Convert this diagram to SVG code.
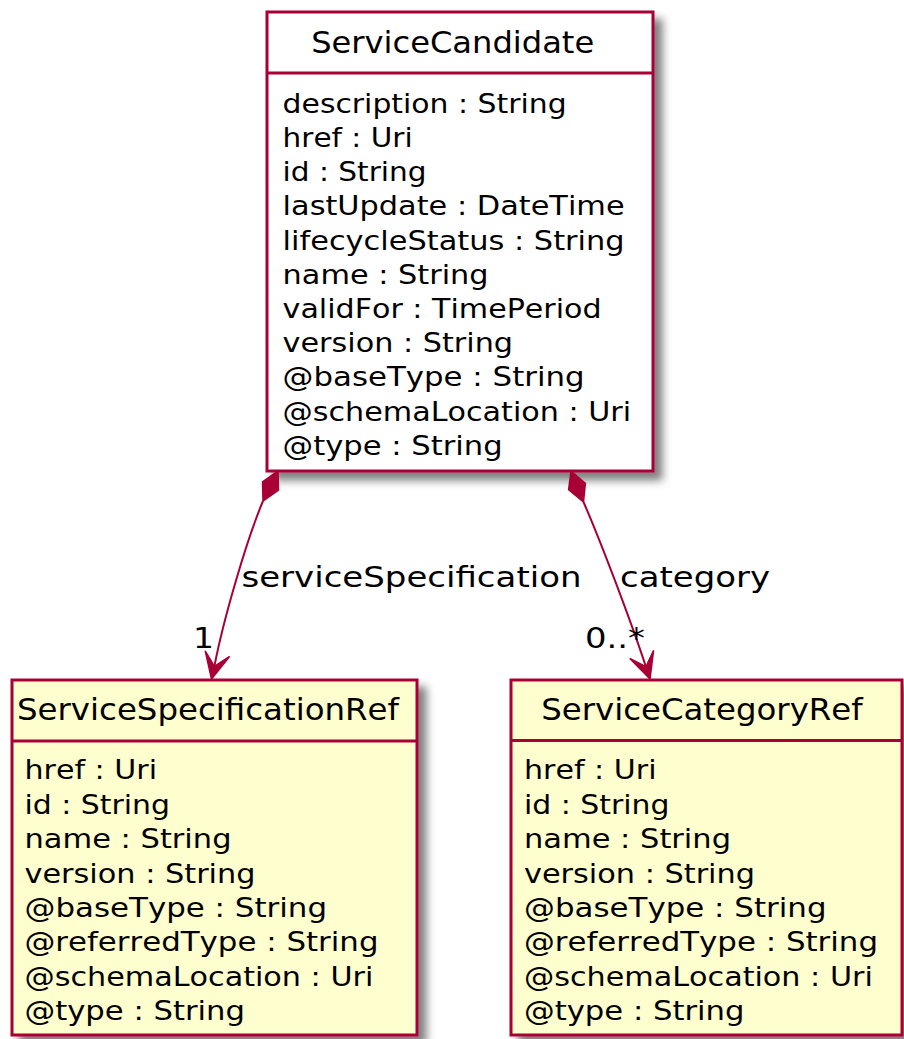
<svg xmlns="http://www.w3.org/2000/svg" width="904" height="1039" viewBox="0 0 904 1039">
<defs>
<filter id="sh" x="-10%" y="-10%" width="130%" height="130%">
<feDropShadow dx="8" dy="8" stdDeviation="4" flood-color="#000" flood-opacity="0.5"/>
</filter>
<style>
.box{stroke:#A80036;stroke-width:3;filter:url(#sh)}
.main{fill:#FFFFFF}
.ref{fill:#FEFECE}
.sep{stroke:#A80036;stroke-width:3}
text{font-family:"DejaVu Sans","Liberation Sans",sans-serif;fill:#000;font-kerning:none}
.title{font-size:30px}
.attr{font-size:26px}
.lbl{font-size:28px}
.link{fill:none;stroke:#A80036;stroke-width:2}
.head{fill:#A80036;stroke:#A80036;stroke-width:1.5;stroke-linejoin:miter}
</style>
</defs>
<rect width="904" height="1039" fill="#FFFFFF"/>

<g id="ServiceCandidate">
<rect class="box main" x="267" y="12" width="386" height="459"/>
<line class="sep" x1="267" y1="73" x2="653" y2="73"/>
<text class="title" x="311.2" y="53.3" textLength="283" lengthAdjust="spacingAndGlyphs">ServiceCandidate</text>
<text class="attr" x="282.6" y="112.8" textLength="284" lengthAdjust="spacingAndGlyphs">description : String</text>
<text class="attr" x="282.6" y="147" textLength="130" lengthAdjust="spacingAndGlyphs">href : Uri</text>
<text class="attr" x="282.6" y="181.2" textLength="144" lengthAdjust="spacingAndGlyphs">id : String</text>
<text class="attr" x="282.6" y="215.4" textLength="342" lengthAdjust="spacingAndGlyphs">lastUpdate : DateTime</text>
<text class="attr" x="282.6" y="249.6" textLength="342" lengthAdjust="spacingAndGlyphs">lifecycleStatus : String</text>
<text class="attr" x="282.6" y="283.8" textLength="206" lengthAdjust="spacingAndGlyphs">name : String</text>
<text class="attr" x="282.6" y="318" textLength="319" lengthAdjust="spacingAndGlyphs">validFor : TimePeriod</text>
<text class="attr" x="282.6" y="352.2" textLength="230.5" lengthAdjust="spacingAndGlyphs">version : String</text>
<text class="attr" x="282.6" y="386.4" textLength="302" lengthAdjust="spacingAndGlyphs">@baseType : String</text>
<text class="attr" x="282.6" y="420.6" textLength="348.5" lengthAdjust="spacingAndGlyphs">@schemaLocation : Uri</text>
<text class="attr" x="282.6" y="454.8" textLength="220" lengthAdjust="spacingAndGlyphs">@type : String</text>
</g>

<g id="ServiceSpecificationRef">
<rect class="box ref" x="12" y="680" width="405" height="355"/>
<line class="sep" x1="12" y1="741" x2="417" y2="741"/>
<text class="title" x="17" y="720" textLength="382" lengthAdjust="spacingAndGlyphs">ServiceSpecificationRef</text>
<text class="attr" x="24.5" y="779.3" textLength="132.5" lengthAdjust="spacingAndGlyphs">href : Uri</text>
<text class="attr" x="24.5" y="813.7" textLength="145.5" lengthAdjust="spacingAndGlyphs">id : String</text>
<text class="attr" x="24.5" y="848.1" textLength="207" lengthAdjust="spacingAndGlyphs">name : String</text>
<text class="attr" x="24.5" y="882.5" textLength="231" lengthAdjust="spacingAndGlyphs">version : String</text>
<text class="attr" x="24.5" y="916.9" textLength="302.5" lengthAdjust="spacingAndGlyphs">@baseType : String</text>
<text class="attr" x="24.5" y="951.3" textLength="354" lengthAdjust="spacingAndGlyphs">@referredType : String</text>
<text class="attr" x="24.5" y="985.7" textLength="348.8" lengthAdjust="spacingAndGlyphs">@schemaLocation : Uri</text>
<text class="attr" x="24.5" y="1020.1" textLength="220.5" lengthAdjust="spacingAndGlyphs">@type : String</text>
</g>

<g id="ServiceCategoryRef">
<rect class="box ref" x="511" y="680" width="391" height="355"/>
<line class="sep" x1="511" y1="740.5" x2="902" y2="740.5"/>
<text class="title" x="541.2" y="720" textLength="321.5" lengthAdjust="spacingAndGlyphs">ServiceCategoryRef</text>
<text class="attr" x="524" y="779.3" textLength="132.5" lengthAdjust="spacingAndGlyphs">href : Uri</text>
<text class="attr" x="524" y="813.7" textLength="145.5" lengthAdjust="spacingAndGlyphs">id : String</text>
<text class="attr" x="524" y="848.1" textLength="207" lengthAdjust="spacingAndGlyphs">name : String</text>
<text class="attr" x="524" y="882.5" textLength="231" lengthAdjust="spacingAndGlyphs">version : String</text>
<text class="attr" x="524" y="916.9" textLength="302.5" lengthAdjust="spacingAndGlyphs">@baseType : String</text>
<text class="attr" x="524" y="951.3" textLength="354" lengthAdjust="spacingAndGlyphs">@referredType : String</text>
<text class="attr" x="524" y="985.7" textLength="348.8" lengthAdjust="spacingAndGlyphs">@schemaLocation : Uri</text>
<text class="attr" x="524" y="1020.1" textLength="220.5" lengthAdjust="spacingAndGlyphs">@type : String</text>
</g>

<g id="connectors">
<g id="link-serviceSpecification">
<path class="link" d="M263,501 C246.2,541 223,621 214.4,666.3"/>
<polygon class="head" points="278,471 278.5,490 263,501 262.5,482"/>
<polygon class="head" points="211.5,679 205.2,650.9 214.4,666.3 229.6,656.5"/>
<text class="lbl" x="241.5" y="586.7" textLength="340" lengthAdjust="spacingAndGlyphs">serviceSpecification</text>
<text class="lbl" x="193" y="648.3" textLength="21" lengthAdjust="spacingAndGlyphs">1</text>
</g>
<g id="link-category">
<path class="link" d="M583.5,502 C601,542 631,621.7 645.9,666.7"/>
<polygon class="head" points="571,471 585.4,483.3 583.5,502 568.6,489.7"/>
<polygon class="head" points="650,679 629.8,658.4 645.9,666.7 653.6,650.4"/>
<text class="lbl" x="620" y="586.7" textLength="150" lengthAdjust="spacingAndGlyphs">category</text>
<text class="lbl" x="585" y="648.3" textLength="60" lengthAdjust="spacingAndGlyphs">0..*</text>
</g>
</g>
</svg>
